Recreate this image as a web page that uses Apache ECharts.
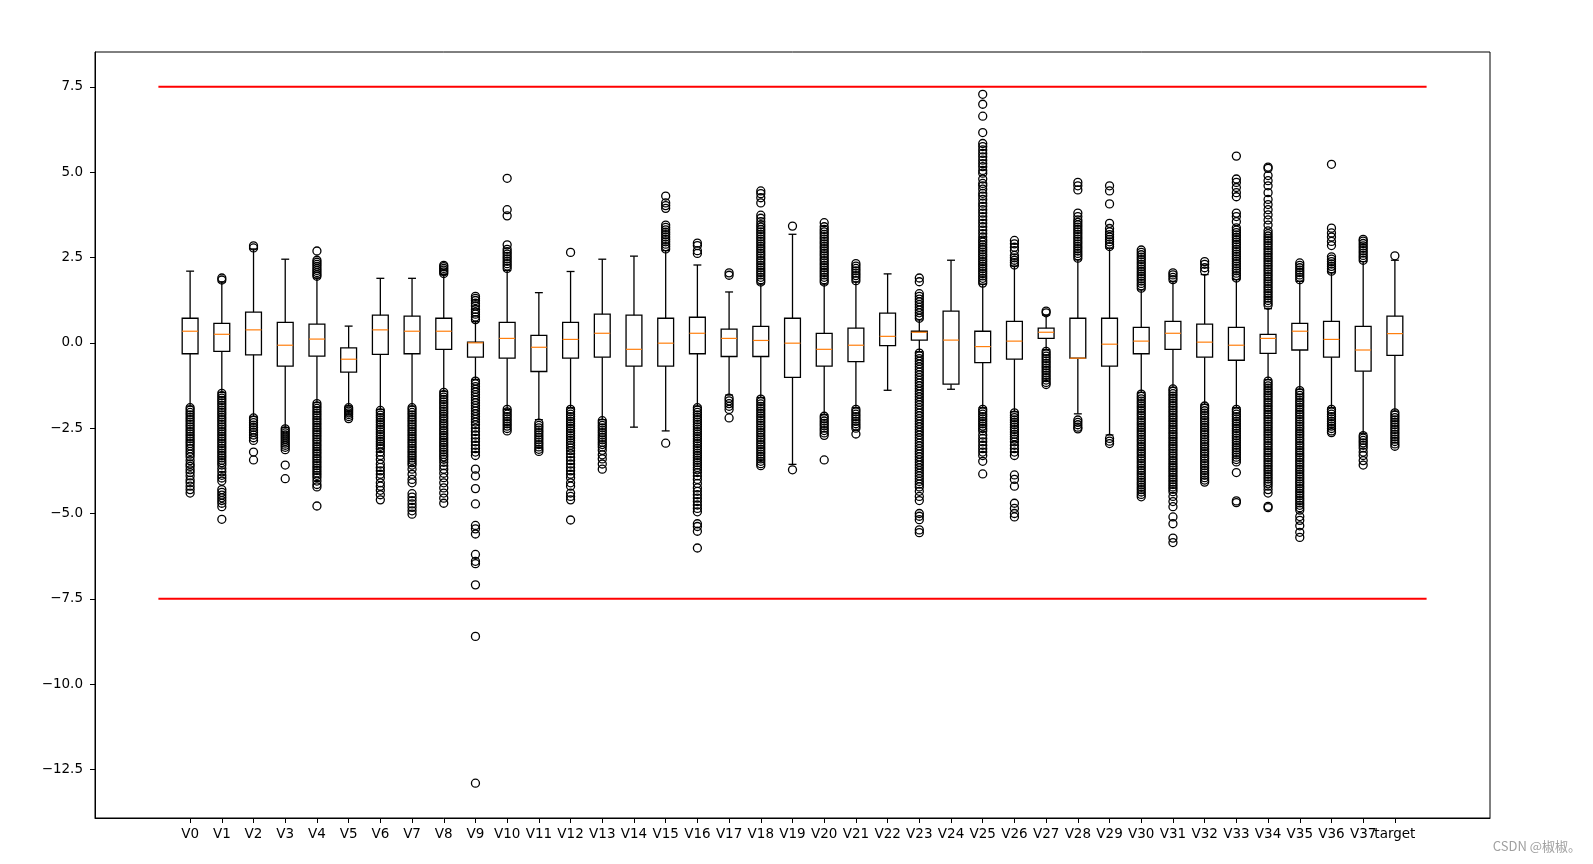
<!DOCTYPE html>
<html>
<head>
<meta charset="utf-8">
<title>boxplot</title>
<script src="https://cdn.jsdelivr.net/npm/echarts@6/dist/echarts.min.js"></script>
<style>
html, body { margin: 0; padding: 0; background: #fff; }
#main { width: 1593px; height: 864px; }
</style>
</head>
<body>
<div id="main"></div>
<script>
"use strict";

var names = ['V0','V1','V2','V3','V4','V5','V6','V7','V8','V9','V10','V11','V12','V13','V14','V15','V16','V17','V18','V19',
    'V20','V21','V22','V23','V24','V25','V26','V27','V28','V29','V30','V31','V32','V33','V34','V35','V36','V37','target'];

var lowWhisker = [-1.85,-1.45,-2.15,-2.48,-1.75,-1.85,-1.95,-1.85,-1.42,-1.07,-1.95,-2.25,-1.9,-2.25,-2.47,-2.58,-1.85,-1.53,-1.6,-3.56,
    -2.1,-1.9,-1.39,-0.26,-1.36,-1.9,-2.02,-0.2,-2.08,-2.7,-1.45,-1.3,-1.8,-1.9,-1.08,-1.36,-1.9,-2.65,-2.0];
var q1 = [-0.32,-0.25,-0.35,-0.68,-0.39,-0.86,-0.34,-0.32,-0.19,-0.42,-0.45,-0.84,-0.45,-0.42,-0.68,-0.68,-0.32,-0.40,-0.40,-1.01,
    -0.68,-0.55,-0.08,0.08,-1.21,-0.58,-0.48,0.13,-0.45,-0.68,-0.32,-0.19,-0.42,-0.51,-0.31,-0.21,-0.42,-0.83,-0.37];
var median = [0.34,0.25,0.38,-0.07,0.11,-0.48,0.38,0.34,0.34,0.0,0.13,-0.13,0.10,0.28,-0.19,-0.01,0.28,0.13,0.07,-0.01,
    -0.19,-0.07,0.19,0.31,0.08,-0.11,0.05,0.31,-0.45,-0.04,0.05,0.28,0.02,-0.07,0.13,0.34,0.10,-0.21,0.27];
var q3 = [0.72,0.57,0.90,0.60,0.55,-0.15,0.81,0.78,0.72,0.02,0.60,0.22,0.60,0.84,0.81,0.72,0.75,0.40,0.48,0.72,
    0.28,0.43,0.87,0.34,0.93,0.34,0.63,0.43,0.72,0.72,0.45,0.63,0.55,0.45,0.25,0.57,0.63,0.48,0.78];
var highWhisker = [2.10,1.78,2.75,2.45,1.90,0.49,1.89,1.89,2.0,0.62,2.12,1.47,2.09,2.45,2.54,2.7,2.28,1.49,1.72,3.18,
    1.72,1.78,2.02,0.67,2.42,1.72,2.25,0.81,2.43,2.77,1.55,1.79,2.0,1.85,1.0,1.8,2.05,2.38,2.42];

var outliers = [
    // V0
    [-1.90,-1.97,-2.04,-2.11,-2.18,-2.25,-2.32,-2.39,-2.46,-2.53,-2.60,-2.67,-2.74,-2.81,-2.88,-2.95,-3.02,-3.1,-3.18,-3.26,-3.34,-3.45,-3.55,-3.62,-3.72,-3.8,-3.9,-4.02,-4.1,-4.2,-4.3,-4.4],
    // V1
    [1.84,1.9,-1.48,-1.55,-1.62,-1.69,-1.76,-1.83,-1.90,-1.97,-2.04,-2.11,-2.18,-2.25,-2.32,-2.39,-2.46,-2.53,-2.60,-2.67,-2.74,-2.81,-2.88,-2.95,-3.02,-3.09,-3.16,-3.23,-3.30,-3.37,-3.44,-3.51,-3.58,-3.68,-3.78,-3.88,-3.96,-4.05,-4.3,-4.38,-4.46,-4.54,-4.62,-4.7,-4.8,-5.17],
    // V2
    [2.78,2.84,-2.2,-2.27,-2.34,-2.41,-2.48,-2.55,-2.62,-2.7,-2.78,-2.86,-3.2,-3.43],
    // V3
    [-2.52,-2.58,-2.64,-2.7,-2.76,-2.82,-2.88,-2.94,-3.0,-3.06,-3.13,-3.58,-3.98],
    // V4
    [1.95,2.0,2.06,2.12,2.18,2.24,2.3,2.36,2.42,2.69,-1.78,-1.85,-1.92,-1.99,-2.06,-2.13,-2.20,-2.27,-2.34,-2.41,-2.48,-2.55,-2.62,-2.69,-2.76,-2.83,-2.90,-2.97,-3.04,-3.11,-3.18,-3.25,-3.32,-3.39,-3.46,-3.53,-3.60,-3.67,-3.74,-3.81,-3.88,-3.95,-4.05,-4.15,-4.22,-4.78],
    // V5
    [-1.9,-1.95,-2.0,-2.05,-2.1,-2.16,-2.22],
    // V6
    [-1.98,-2.05,-2.12,-2.19,-2.26,-2.33,-2.40,-2.47,-2.54,-2.61,-2.68,-2.75,-2.82,-2.89,-2.96,-3.03,-3.1,-3.2,-3.3,-3.42,-3.55,-3.65,-3.75,-3.85,-3.95,-4.1,-4.2,-4.32,-4.45,-4.6],
    // V7
    [-1.90,-1.97,-2.04,-2.11,-2.18,-2.25,-2.32,-2.39,-2.46,-2.53,-2.60,-2.67,-2.74,-2.81,-2.88,-2.95,-3.02,-3.09,-3.16,-3.23,-3.30,-3.37,-3.44,-3.51,-3.58,-3.7,-3.85,-4.0,-4.1,-4.42,-4.52,-4.62,-4.72,-4.82,-4.92,-5.02],
    // V8
    [2.03,2.08,2.13,2.18,2.23,2.27,-1.45,-1.52,-1.59,-1.66,-1.73,-1.80,-1.87,-1.94,-2.01,-2.08,-2.15,-2.22,-2.29,-2.36,-2.43,-2.50,-2.57,-2.64,-2.71,-2.78,-2.85,-2.92,-2.99,-3.06,-3.13,-3.2,-3.27,-3.34,-3.41,-3.5,-3.6,-3.7,-3.82,-3.95,-4.1,-4.25,-4.4,-4.55,-4.7],
    // V9
    [0.68,0.76,0.84,0.9,0.98,1.08,1.16,1.24,1.3,1.36,-1.12,-1.2,-1.28,-1.36,-1.44,-1.52,-1.6,-1.68,-1.76,-1.84,-1.92,-2.0,-2.08,-2.16,-2.24,-2.32,-2.4,-2.5,-2.6,-2.7,-2.8,-2.9,-3.0,-3.1,-3.2,-3.3,-3.7,-3.9,-4.27,-4.72,-5.35,-5.45,-5.6,-6.2,-6.4,-6.47,-7.09,-8.6,-12.9],
    // V10
    [2.18,2.25,2.32,2.39,2.46,2.53,2.6,2.67,2.74,2.87,3.72,3.9,4.82,-1.95,-2.02,-2.09,-2.16,-2.23,-2.3,-2.37,-2.44,-2.51,-2.58],
    // V11
    [-2.35,-2.42,-2.49,-2.56,-2.63,-2.7,-2.77,-2.84,-2.91,-2.98,-3.05,-3.12,-3.18],
    // V12
    [2.65,-1.95,-2.02,-2.09,-2.16,-2.23,-2.30,-2.37,-2.44,-2.51,-2.58,-2.65,-2.72,-2.79,-2.86,-2.93,-3.0,-3.08,-3.16,-3.25,-3.35,-3.45,-3.55,-3.65,-3.75,-3.85,-3.95,-4.1,-4.2,-4.4,-4.5,-4.6,-5.19],
    // V13
    [-2.28,-2.35,-2.42,-2.49,-2.56,-2.63,-2.7,-2.77,-2.84,-2.91,-2.98,-3.05,-3.15,-3.28,-3.4,-3.55,-3.7],
    // V14
    [],
    // V15
    [2.75,2.82,2.89,2.96,3.03,3.1,3.17,3.24,3.31,3.38,3.45,3.94,4.02,4.1,4.3,-2.94],
    // V16
    [2.62,2.7,2.85,2.92,-1.90,-1.97,-2.04,-2.11,-2.18,-2.25,-2.32,-2.39,-2.46,-2.53,-2.60,-2.67,-2.74,-2.81,-2.88,-2.95,-3.02,-3.09,-3.16,-3.23,-3.30,-3.37,-3.44,-3.51,-3.58,-3.65,-3.72,-3.8,-3.9,-4.0,-4.12,-4.25,-4.35,-4.45,-4.55,-4.65,-4.75,-4.85,-4.95,-5.3,-5.38,-5.52,-6.01],
    // V17
    [1.98,2.05,-1.62,-1.7,-1.78,-1.86,-1.95,-2.2],
    // V18
    [1.78,1.85,1.92,1.99,2.06,2.13,2.2,2.27,2.34,2.41,2.48,2.55,2.62,2.69,2.76,2.83,2.9,2.97,3.04,3.11,3.18,3.25,3.32,3.39,3.46,3.55,3.65,3.74,4.1,4.25,4.37,4.45,
     -1.65,-1.72,-1.79,-1.86,-1.93,-2.0,-2.07,-2.14,-2.21,-2.28,-2.35,-2.42,-2.49,-2.56,-2.63,-2.7,-2.77,-2.84,-2.91,-2.98,-3.05,-3.12,-3.19,-3.26,-3.33,-3.4,-3.47,-3.54,-3.6],
    // V19
    [3.42,-3.72],
    // V20
    [1.78,1.85,1.92,1.99,2.06,2.13,2.2,2.27,2.34,2.41,2.48,2.55,2.62,2.69,2.76,2.83,2.9,2.97,3.04,3.11,3.18,3.25,3.32,3.4,3.52,-2.15,-2.22,-2.29,-2.36,-2.43,-2.5,-2.57,-2.64,-2.71,-3.43],
    // V21
    [1.82,1.9,1.97,2.04,2.11,2.18,2.25,2.32,-1.95,-2.02,-2.09,-2.16,-2.23,-2.3,-2.37,-2.44,-2.5,-2.67],
    // V22
    [],
    // V23
    [0.72,0.8,0.88,0.96,1.04,1.12,1.2,1.28,1.36,1.44,1.79,1.9,
     -0.30,-0.38,-0.46,-0.54,-0.62,-0.70,-0.78,-0.86,-0.94,-1.02,-1.10,-1.18,-1.26,-1.34,-1.42,-1.50,-1.58,-1.66,-1.74,-1.82,-1.90,-1.98,-2.06,-2.14,-2.22,-2.30,-2.38,-2.46,-2.54,-2.62,-2.70,-2.78,-2.86,-2.94,-3.02,-3.10,-3.18,-3.26,-3.34,-3.42,-3.50,-3.58,-3.66,-3.74,-3.82,-3.90,-3.98,-4.06,-4.14,-4.22,-4.35,-4.5,-4.62,-5.0,-5.08,-5.18,-5.48,-5.56],
    // V24
    [],
    // V25
    [1.75,1.82,1.89,1.96,2.03,2.1,2.17,2.24,2.31,2.38,2.45,2.52,2.59,2.66,2.73,2.8,2.87,2.95,3.01,3.1,3.2,3.3,3.4,3.5,3.6,3.7,3.8,3.9,4.0,4.09,4.2,4.3,4.38,4.5,4.6,4.67,4.8,4.97,5.05,5.16,5.25,5.35,5.45,5.55,5.65,5.75,5.84,6.16,6.64,6.99,7.28,
     -1.95,-2.02,-2.09,-2.16,-2.23,-2.3,-2.37,-2.44,-2.51,-2.58,-2.7,-2.8,-2.9,-3.0,-3.1,-3.2,-3.3,-3.47,-3.84],
    // V26
    [2.28,2.35,2.42,2.49,2.56,2.7,2.8,2.9,3.0,-2.05,-2.12,-2.19,-2.26,-2.33,-2.4,-2.47,-2.54,-2.61,-2.68,-2.75,-2.82,-2.9,-3.0,-3.1,-3.2,-3.3,-3.87,-4.0,-4.2,-4.7,-4.85,-5.0,-5.1],
    // V27
    [0.88,0.93,-0.25,-0.32,-0.39,-0.46,-0.53,-0.6,-0.67,-0.74,-0.81,-0.88,-0.95,-1.02,-1.09,-1.16,-1.22],
    // V28
    [2.48,2.55,2.62,2.69,2.76,2.83,2.9,2.97,3.04,3.11,3.18,3.25,3.32,3.39,3.46,3.53,3.6,3.7,3.8,4.48,4.6,4.7,-2.26,-2.33,-2.4,-2.47,-2.52],
    // V29
    [2.82,2.89,2.96,3.03,3.1,3.17,3.25,3.35,3.5,4.07,4.45,4.6,-2.8,-2.88,-2.95],
    // V30
    [1.60,1.67,1.74,1.81,1.88,1.95,2.02,2.09,2.16,2.23,2.30,2.37,2.44,2.51,2.58,2.65,2.72,
     -1.50,-1.57,-1.64,-1.71,-1.78,-1.85,-1.92,-1.99,-2.06,-2.13,-2.20,-2.27,-2.34,-2.41,-2.48,-2.55,-2.62,-2.69,-2.76,-2.83,-2.90,-2.97,-3.04,-3.11,-3.18,-3.25,-3.32,-3.39,-3.46,-3.53,-3.60,-3.67,-3.74,-3.81,-3.88,-3.95,-4.02,-4.09,-4.16,-4.23,-4.30,-4.37,-4.44,-4.51],
    // V31
    [1.85,1.92,1.99,2.05,
     -1.35,-1.42,-1.49,-1.56,-1.63,-1.70,-1.77,-1.84,-1.91,-1.98,-2.05,-2.12,-2.19,-2.26,-2.33,-2.40,-2.47,-2.54,-2.61,-2.68,-2.75,-2.82,-2.89,-2.96,-3.03,-3.10,-3.17,-3.24,-3.31,-3.38,-3.45,-3.52,-3.59,-3.66,-3.73,-3.80,-3.87,-3.94,-4.01,-4.08,-4.15,-4.22,-4.29,-4.36,-4.5,-4.65,-4.8,-5.1,-5.3,-5.72,-5.85],
    // V32
    [2.1,2.2,2.3,2.38,
     -1.85,-1.92,-1.99,-2.06,-2.13,-2.20,-2.27,-2.34,-2.41,-2.48,-2.55,-2.62,-2.69,-2.76,-2.83,-2.90,-2.97,-3.04,-3.11,-3.18,-3.25,-3.32,-3.39,-3.46,-3.53,-3.60,-3.67,-3.74,-3.81,-3.88,-3.95,-4.02,-4.08],
    // V33
    [1.90,1.97,2.04,2.11,2.18,2.25,2.32,2.39,2.46,2.53,2.60,2.67,2.74,2.81,2.88,2.95,3.02,3.09,3.16,3.23,3.30,3.37,3.55,3.7,3.8,4.28,4.4,4.55,4.7,4.8,5.47,
     -1.95,-2.02,-2.09,-2.16,-2.23,-2.30,-2.37,-2.44,-2.51,-2.58,-2.65,-2.72,-2.79,-2.86,-2.93,-3.00,-3.07,-3.14,-3.21,-3.28,-3.35,-3.42,-3.49,-3.8,-4.63,-4.68],
    // V34
    [1.10,1.17,1.24,1.31,1.38,1.45,1.52,1.59,1.66,1.73,1.80,1.87,1.94,2.01,2.08,2.15,2.22,2.29,2.36,2.43,2.50,2.57,2.64,2.71,2.78,2.85,2.92,2.99,3.06,3.13,3.2,3.28,3.45,3.6,3.75,3.9,4.05,4.2,4.4,4.6,4.75,4.9,5.11,5.15,
     -1.12,-1.19,-1.26,-1.33,-1.40,-1.47,-1.54,-1.61,-1.68,-1.75,-1.82,-1.89,-1.96,-2.03,-2.10,-2.17,-2.24,-2.31,-2.38,-2.45,-2.52,-2.59,-2.66,-2.73,-2.80,-2.87,-2.94,-3.01,-3.08,-3.15,-3.22,-3.29,-3.36,-3.43,-3.50,-3.57,-3.64,-3.71,-3.78,-3.85,-3.92,-3.99,-4.06,-4.13,-4.2,-4.3,-4.4,-4.79,-4.83],
    // V35
    [1.85,1.92,1.99,2.06,2.13,2.2,2.27,2.34,
     -1.40,-1.47,-1.54,-1.61,-1.68,-1.75,-1.82,-1.89,-1.96,-2.03,-2.10,-2.17,-2.24,-2.31,-2.38,-2.45,-2.52,-2.59,-2.66,-2.73,-2.80,-2.87,-2.94,-3.01,-3.08,-3.15,-3.22,-3.29,-3.36,-3.43,-3.50,-3.57,-3.64,-3.71,-3.78,-3.85,-3.92,-3.99,-4.06,-4.13,-4.20,-4.27,-4.34,-4.41,-4.48,-4.55,-4.62,-4.69,-4.76,-4.83,-4.9,-5.09,-5.2,-5.36,-5.55,-5.7],
    // V36
    [2.1,2.17,2.24,2.31,2.38,2.45,2.52,2.85,2.97,3.1,3.22,3.36,5.23,-1.95,-2.02,-2.09,-2.16,-2.23,-2.3,-2.37,-2.44,-2.51,-2.58,-2.63],
    // V37
    [2.42,2.49,2.56,2.63,2.7,2.77,2.84,2.91,2.98,3.03,-2.72,-2.79,-2.86,-2.93,-3.0,-3.08,-3.2,-3.3,-3.45,-3.58],
    // target
    [2.55,-2.05,-2.12,-2.19,-2.26,-2.33,-2.40,-2.47,-2.54,-2.61,-2.68,-2.75,-2.82,-2.89,-2.96,-3.03]
];

var yTicks = [-12.5, -10, -7.5, -5, -2.5, 0, 2.5, 5, 7.5];
var redLevels = [7.5, -7.5];
var redSpan = [0, 40];

var BOX_WIDTH = 0.5;
var positions = names.map(function (n, i) { return i + 1; });
// the last label overlaps its neighbour, so it sits on a second axis to stay visible
var mainLabelPos = positions.slice(0, positions.length - 1);
var lastLabelPos = positions.slice(positions.length - 1);

var boxData = names.map(function (n, i) {
    return [positions[i], lowWhisker[i], q1[i], median[i], q3[i], highWhisker[i]];
});

var flierData = [];
outliers.forEach(function (list, i) {
    list.forEach(function (v) { flierData.push([positions[i], v]); });
});

function renderBox(params, api) {
    var x = api.value(0);
    var lo = api.coord([x, api.value(1)]);
    var b1 = api.coord([x, api.value(2)]);
    var md = api.coord([x, api.value(3)]);
    var b3 = api.coord([x, api.value(4)]);
    var hi = api.coord([x, api.value(5)]);
    var w = api.size([BOX_WIDTH, 0])[0];
    var cx = lo[0];
    var line = { stroke: '#000', lineWidth: 1.3, fill: null };
    return {
        type: 'group',
        children: [
            { type: 'line', shape: { x1: cx, y1: b1[1], x2: cx, y2: lo[1] }, style: line },
            { type: 'line', shape: { x1: cx, y1: b3[1], x2: cx, y2: hi[1] }, style: line },
            { type: 'line', shape: { x1: cx - w / 4, y1: lo[1], x2: cx + w / 4, y2: lo[1] }, style: line },
            { type: 'line', shape: { x1: cx - w / 4, y1: hi[1], x2: cx + w / 4, y2: hi[1] }, style: line },
            { type: 'rect', shape: { x: cx - w / 2, y: b3[1], width: w, height: b1[1] - b3[1] }, style: line },
            { type: 'line', shape: { x1: cx - w / 2, y1: md[1], x2: cx + w / 2, y2: md[1] },
              style: { stroke: '#ff7f0e', lineWidth: 1.2 } }
        ]
    };
}

function fmtY(v) {
    return v.toFixed(1).replace('-', '\u2212');
}

function fmtX(v) {
    return names[Math.round(v) - 1] || '';
}

var xLabelStyle = { margin: 9, color: '#000', fontSize: 13.5, fontFamily: 'DejaVu Sans', formatter: fmtX };

var myChart = echarts.init(document.getElementById('main'), null, { renderer: 'canvas' });

var option = {
    animation: false,
    backgroundColor: '#fff',
    textStyle: { fontFamily: 'DejaVu Sans' },
    grid: { left: 95, right: 103, top: 52, bottom: 46, show: true, borderColor: '#000', borderWidth: 1 },
    xAxis: [{
        type: 'value',
        position: 'bottom',
        min: -2,
        max: 42,
        splitLine: { show: false },
        axisLine: { show: true, onZero: false, lineStyle: { color: '#000', width: 1 } },
        axisTick: { show: true, customValues: positions, length: 5, lineStyle: { color: '#000' } },
        axisLabel: Object.assign({ customValues: mainLabelPos, showMinLabel: true, showMaxLabel: true }, xLabelStyle)
    }, {
        type: 'value',
        position: 'bottom',
        offset: 0,
        min: -2,
        max: 42,
        splitLine: { show: false },
        axisLine: { show: false, onZero: false },
        axisTick: { show: false },
        axisLabel: Object.assign({ customValues: lastLabelPos, showMinLabel: true, showMaxLabel: true }, xLabelStyle)
    }],
    yAxis: {
        type: 'value',
        min: -13.92,
        max: 8.52,
        splitLine: { show: false },
        axisLine: { show: true, onZero: false, lineStyle: { color: '#000', width: 1 } },
        axisTick: { show: true, customValues: yTicks, length: 5, lineStyle: { color: '#000' } },
        axisLabel: {
            customValues: yTicks,
            showMinLabel: true,
            showMaxLabel: true,
            margin: 12,
            color: '#000',
            fontSize: 13.5,
            fontFamily: 'DejaVu Sans',
            formatter: fmtY
        }
    },
    series: [
        {
            type: 'line',
            data: [[redSpan[0], redLevels[0]], [redSpan[1], redLevels[0]]],
            symbol: 'none',
            silent: true,
            lineStyle: { color: '#ff0000', width: 2 },
            z: 1
        },
        {
            type: 'line',
            data: [[redSpan[0], redLevels[1]], [redSpan[1], redLevels[1]]],
            symbol: 'none',
            silent: true,
            lineStyle: { color: '#ff0000', width: 2 },
            z: 1
        },
        {
            type: 'custom',
            renderItem: renderBox,
            data: boxData,
            encode: { x: 0, y: [1, 2, 3, 4, 5] },
            silent: true,
            z: 2
        },
        {
            type: 'scatter',
            data: flierData,
            symbol: 'circle',
            symbolSize: 8,
            silent: true,
            progressive: 0,
            large: false,
            itemStyle: { color: 'rgba(0,0,0,0)', borderColor: '#000', borderWidth: 1.3, opacity: 1 },
            emphasis: { disabled: true },
            z: 3
        }
    ],
    graphic: [{
        type: 'text',
        right: 12,
        top: 840,
        style: { text: 'CSDN @椒椒。', fill: '#a0a0a0', fontSize: 13, fontFamily: 'Noto Sans CJK SC' }
    }]
};

myChart.setOption(option);
window.myChart = myChart;
</script>
</body>
</html>
